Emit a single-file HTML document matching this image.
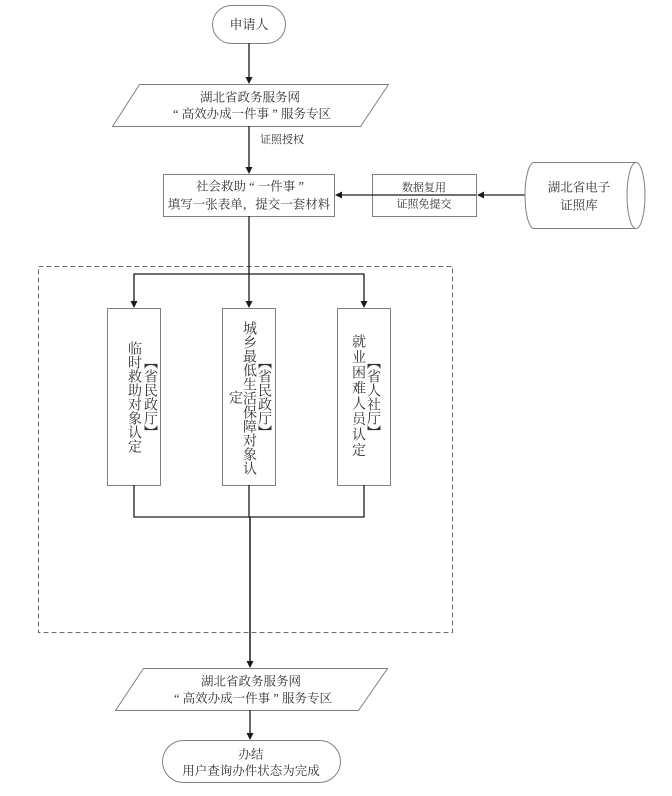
<!DOCTYPE html>
<html>
<head>
<meta charset="utf-8">
<style>
  html, body { margin:0; padding:0; background:#fff; }
  #wrap { position:relative; width:672px; height:796px; overflow:hidden; background:#fff; }
  svg { position:absolute; left:0; top:0; }
  .t { font-family:"Liberation Serif","Noto Serif CJK SC",serif; fill:#333; }
  .v { position:absolute; writing-mode:vertical-rl; text-orientation:upright;
       font-family:"Liberation Serif","Noto Serif CJK SC",serif; font-size:14px; line-height:14px;
       width:14px; color:#333; white-space:nowrap; }
</style>
</head>
<body>
<div id="wrap">
<svg width="672" height="796" viewBox="0 0 672 796" xmlns="http://www.w3.org/2000/svg">
  <!-- dashed container -->
  <rect x="38.5" y="266.5" width="414" height="366" fill="none" stroke="#6a6a6a" stroke-width="1" stroke-dasharray="5,3"/>

  <!-- terminal 1 -->
  <rect x="212.5" y="5.5" width="73" height="38" rx="19" ry="19" fill="#fff" stroke="#808080" stroke-width="1"/>
  <text class="t" x="249" y="29" font-size="13" text-anchor="middle">申请人</text>

  <!-- arrow terminal -> para1 -->
  <line x1="249" y1="43" x2="249" y2="78" stroke="#1a1a1a" stroke-width="1.3"/>
  <polygon points="245.5,77 252.5,77 249,84" fill="#1a1a1a"/>

  <!-- parallelogram 1 -->
  <polygon points="139.5,84.5 388.5,84.5 360.5,126.5 112.5,126.5" fill="#fff" stroke="#808080" stroke-width="1"/>
  <text class="t" x="250" y="101.5" font-size="12.5" text-anchor="middle">湖北省政务服务网</text>
  <text class="t" x="252" y="118" font-size="12.5" text-anchor="middle">“ 高效办成一件事 ”  服务专区</text>

  <!-- arrow para1 -> form box -->
  <line x1="249" y1="126" x2="249" y2="168" stroke="#1a1a1a" stroke-width="1.3"/>
  <polygon points="245.5,167 252.5,167 249,174" fill="#1a1a1a"/>
  <text class="t" x="260" y="143" font-size="11">证照授权</text>

  <!-- form box -->
  <rect x="163.5" y="174.5" width="171" height="42" fill="#fff" stroke="#808080" stroke-width="1"/>
  <text class="t" x="250" y="190.5" font-size="12.5" text-anchor="middle">社会救助 “ 一件事 ”</text>
  <text class="t" x="249" y="208.5" font-size="12.5" text-anchor="middle">填写一张表单，提交一套材料</text>

  <!-- data reuse box -->
  <rect x="372.5" y="174.5" width="104" height="42" fill="#fff" stroke="#808080" stroke-width="1"/>
  <text class="t" x="424" y="191" font-size="11" text-anchor="middle">数据复用</text>
  <text class="t" x="424" y="207.5" font-size="11" text-anchor="middle">证照免提交</text>

  <!-- arrows horizontal -->
  <line x1="476" y1="195" x2="341" y2="195" stroke="#1a1a1a" stroke-width="1.3"/>
  <polygon points="342,191.5 342,198.5 335,195" fill="#1a1a1a"/>
  <line x1="525" y1="195" x2="483" y2="195" stroke="#1a1a1a" stroke-width="1.3"/>
  <polygon points="484,191.5 484,198.5 477,195" fill="#1a1a1a"/>

  <!-- cylinder -->
  <path d="M534,162.5 L636,162.5 A9,33 0 0 1 636,228.5 L534,228.5 A9,33 0 0 1 534,162.5 Z" fill="#fff" stroke="#808080" stroke-width="1"/>
  <path d="M636,162.5 A9,33 0 0 0 636,228.5" fill="none" stroke="#808080" stroke-width="1"/>
  <text class="t" x="579" y="191.5" font-size="12.5" text-anchor="middle">湖北省电子</text>
  <text class="t" x="579" y="209.5" font-size="12.5" text-anchor="middle">证照库</text>

  <!-- main vertical from form box to boxes -->
  <line x1="249" y1="216" x2="249" y2="302" stroke="#1a1a1a" stroke-width="1.3"/>
  <polygon points="245.5,301 252.5,301 249,308" fill="#1a1a1a"/>

  <!-- distribution line -->
  <polyline points="134,302 134,274 364,274 364,302" fill="none" stroke="#1a1a1a" stroke-width="1.3"/>
  <polygon points="130.5,301 137.5,301 134,308" fill="#1a1a1a"/>
  <polygon points="360.5,301 367.5,301 364,308" fill="#1a1a1a"/>

  <!-- three vertical boxes -->
  <rect x="107.5" y="308.5" width="53" height="177" fill="#fff" stroke="#808080" stroke-width="1"/>
  <rect x="222.5" y="308.5" width="53" height="177" fill="#fff" stroke="#808080" stroke-width="1"/>
  <rect x="337.5" y="308.5" width="53" height="177" fill="#fff" stroke="#808080" stroke-width="1"/>

  <!-- merge line -->
  <polyline points="134,485 134,517 364,517 364,485" fill="none" stroke="#1a1a1a" stroke-width="1.3"/>
  <line x1="249" y1="485" x2="249" y2="517" stroke="#1a1a1a" stroke-width="1.3"/>
  <line x1="250" y1="517" x2="250" y2="662" stroke="#1a1a1a" stroke-width="1.5"/>
  <polygon points="246.5,661 253.5,661 250,668" fill="#1a1a1a"/>

  <!-- parallelogram 2 -->
  <polygon points="143.5,668.5 387.5,668.5 358.5,710.5 115.5,710.5" fill="#fff" stroke="#808080" stroke-width="1"/>
  <text class="t" x="251" y="685.5" font-size="12.5" text-anchor="middle">湖北省政务服务网</text>
  <text class="t" x="253" y="702.5" font-size="12.5" text-anchor="middle">“ 高效办成一件事 ”  服务专区</text>

  <!-- arrow para2 -> terminal2 -->
  <line x1="250" y1="710" x2="250" y2="734" stroke="#1a1a1a" stroke-width="1.3"/>
  <polygon points="246.5,733 253.5,733 250,740" fill="#1a1a1a"/>

  <!-- terminal 2 -->
  <rect x="162.5" y="740.5" width="178" height="42" rx="21" ry="21" fill="#fff" stroke="#808080" stroke-width="1"/>
  <text class="t" x="251" y="758.5" font-size="12.5" text-anchor="middle">办结</text>
  <text class="t" x="251" y="775" font-size="12.5" text-anchor="middle">用户查询办件状态为完成</text>
</svg>

<!-- vertical texts -->
<div class="v" style="left:126px; top:341px;">临时救助对象认定</div>
<div class="v" style="left:142px; top:355px;">【省民政厅】</div>

<div class="v" style="left:241px; top:321px;">城乡最低生活保障对象认</div>
<div class="v" style="left:227px; top:390px;">定</div>
<div class="v" style="left:256px; top:355px;">【省民政厅】</div>

<div class="v" style="left:350px; top:334px; letter-spacing:1.5px;">就业困难人员认定</div>
<div class="v" style="left:365px; top:355px;">【省人社厅】</div>
</div>
</body>
</html>
